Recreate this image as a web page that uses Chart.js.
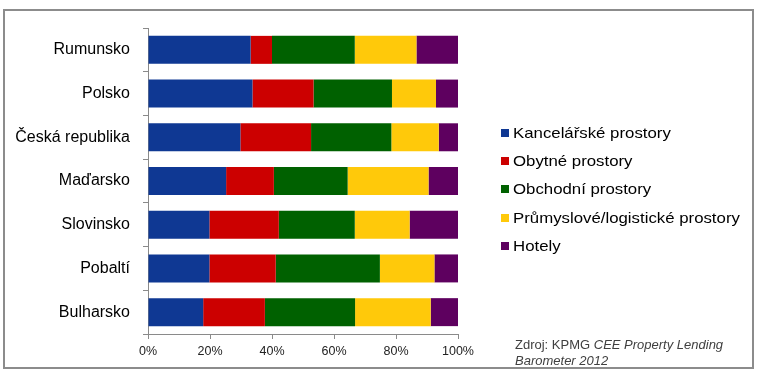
<!DOCTYPE html>
<html lang="cs">
<head>
<meta charset="UTF-8">
<script src="https://cdn.jsdelivr.net/npm/chart.js"></script>
<title>Struktura úvěrů</title>
<style>
    body { margin: 0; background: #fff; font-family: "Liberation Sans", Arial, sans-serif; }
    #wrap { position: relative; width: 759px; height: 373px; }
    #chart { position: absolute; left: 0; top: 0; }
    .frame {
        position: absolute; left: 3px; top: 9px; width: 751px; height: 360px;
        box-sizing: border-box; border: 2px solid #8c8c8c; pointer-events: none;
    }
    #legend { position: absolute; left: 501px; top: 119px; font-size: 15px; color: #000; }
    #legend div { height: 28.2px; line-height: 28px; white-space: nowrap; }
    #legend span { display: inline-block; width: 8px; height: 8px; margin-right: 4px; vertical-align: 1px; }
    #legend em { font-style: normal; display: inline-block; transform: scaleX(1.12); transform-origin: left center; }
    .source { position: absolute; left: 515px; top: 337px; font-size: 13px; line-height: 16px; color: #404040; }
</style>
</head>
<body>
<div id="wrap">
    <canvas id="chart" width="759" height="373"></canvas>
    <div id="legend"></div>
    <div class="source">Zdroj: KPMG <i>CEE Property Lending<br>Barometer 2012</i></div>
    <div class="frame"></div>
</div>

<script>
    // data (share in %)
    const countries = ['Rumunsko', 'Polsko', 'Česká republika', 'Maďarsko', 'Slovinsko', 'Pobaltí', 'Bulharsko'];
    const seriesNames = ['Kancelářské prostory', 'Obytné prostory', 'Obchodní prostory', 'Průmyslové/logistické prostory', 'Hotely'];
    const offices     = [33.1, 33.7, 29.8, 25.2, 19.8, 19.8, 17.8];
    const residential = [6.9, 19.7, 22.8, 15.4, 22.4, 21.4, 19.9];
    const retail      = [26.7, 25.3, 25.9, 23.8, 24.5, 33.6, 29.1];
    const industrial  = [19.9, 14.2, 15.3, 26.1, 17.7, 17.6, 24.4];
    const hotels      = [13.4, 7.1, 6.2, 9.5, 15.6, 7.6, 8.8];
    const xTicks = [0, 20, 40, 60, 80, 100];

    const colors = ['#0f3893', '#cc0000', '#006100', '#ffc90a', '#5e005f'];
    const values = [offices, residential, retail, industrial, hotels];
    const axisGray = '#8a8a8a';

    // html legend
    const legend = document.getElementById('legend');
    seriesNames.forEach((name, i) => {
        const row = document.createElement('div');
        const box = document.createElement('span');
        box.style.background = colors[i];
        const txt = document.createElement('em');
        txt.textContent = name;
        row.appendChild(box);
        row.appendChild(txt);
        legend.appendChild(row);
    });

    new Chart(document.getElementById('chart'), {
        type: 'bar',
        data: {
            labels: countries,
            datasets: seriesNames.map((name, i) => ({
                label: name,
                data: values[i],
                backgroundColor: colors[i],
                borderWidth: 0,
                categoryPercentage: 1,
                barPercentage: 0.64
            }))
        },
        options: {
            indexAxis: 'y',
            responsive: false,
            animation: false,
            layout: { padding: { top: 28, right: 301, left: 0, bottom: 0 } },
            plugins: { legend: { display: false }, tooltip: { enabled: false } },
            scales: {
                x: {
                    stacked: true,
                    min: 0,
                    max: 100,
                    afterFit: s => { s.height = 39; },
                    afterBuildTicks: s => { s.ticks = xTicks.map(v => ({ value: v })); },
                    ticks: {
                        callback: v => v + '%',
                        color: '#222',
                        padding: 5,
                        font: { family: '"Liberation Sans", Arial', size: 12.5 }
                    },
                    grid: { drawOnChartArea: false, tickLength: 5, color: axisGray },
                    border: { color: axisGray }
                },
                y: {
                    stacked: true,
                    afterFit: s => { s.width = 148; },
                    ticks: {
                        color: '#000',
                        padding: 13,
                        font: { family: '"Liberation Sans", Arial', size: 16 }
                    },
                    grid: { drawOnChartArea: false, tickLength: 5, color: axisGray, offset: true },
                    border: { color: axisGray }
                }
            }
        }
    });
</script>
</body>
</html>
